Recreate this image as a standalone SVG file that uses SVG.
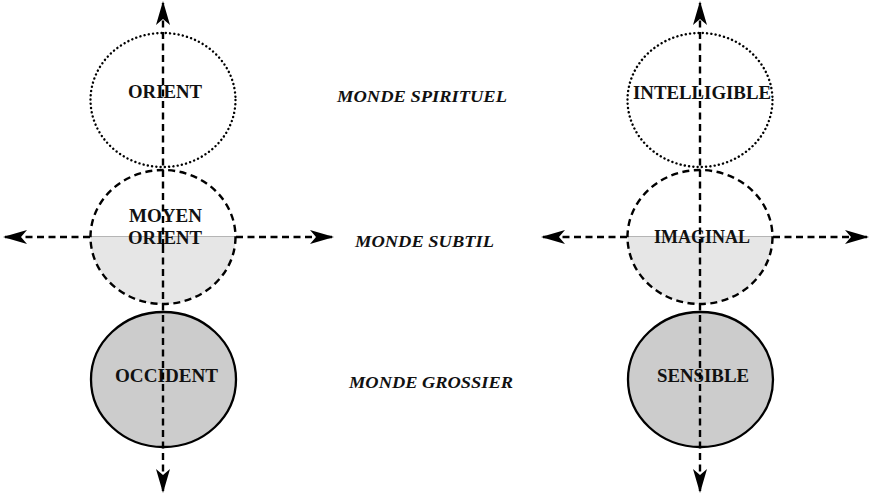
<svg xmlns="http://www.w3.org/2000/svg" width="869" height="493" viewBox="0 0 869 493">
<style>
.lbl{font-family:"Liberation Serif","DejaVu Serif",serif;font-weight:bold;font-size:19px;fill:#111;text-anchor:middle}
.mid{font-family:"Liberation Serif","DejaVu Serif",serif;font-weight:bold;font-style:italic;font-size:16.5px;fill:#111}
.dot{fill:none;stroke:#000;stroke-width:2.4;stroke-dasharray:0.1 4.2;stroke-linecap:round}
.dash{fill:none;stroke:#000;stroke-width:2.4;stroke-dasharray:7 4.5}
.solid{fill:#cccccc;stroke:#000;stroke-width:2.3}
.arr{fill:none;stroke:#000;stroke-width:2.4;stroke-dasharray:7 4.5}
</style>
<defs>
<marker id="ah" viewBox="0 0 24 14" refX="22" refY="7" markerWidth="24" markerHeight="14" markerUnits="userSpaceOnUse" orient="auto">
<path d="M0,0 L24,7 L0,14 L6,7 Z" fill="#000"/>
</marker>
</defs>
<rect width="869" height="493" fill="#fff"/>
<g id="orient">
<ellipse cx="163" cy="100" rx="72.5" ry="67" class="dot"/>
<text x="165" y="98" class="lbl" textLength="74" lengthAdjust="spacingAndGlyphs">ORIENT</text>
</g>
<g id="moyen-orient">
<path d="M90.5,237 A72.5,67 0 0 0 235.5,237 Z" fill="#e6e6e6"/>
<line x1="90.5" y1="236.5" x2="235.5" y2="236.5" stroke="#b5b5b5" stroke-width="1"/>
<ellipse cx="163" cy="237" rx="72.5" ry="67" class="dash"/>
<text x="165.5" y="222" class="lbl" textLength="73" lengthAdjust="spacingAndGlyphs">MOYEN</text>
<text x="165" y="244" class="lbl" textLength="74" lengthAdjust="spacingAndGlyphs">ORIENT</text>
</g>
<g id="occident">
<ellipse cx="163.5" cy="379.5" rx="72.5" ry="67.5" class="solid"/>
<text x="166.5" y="382" class="lbl" textLength="103" lengthAdjust="spacingAndGlyphs">OCCIDENT</text>
</g>
<g id="intelligible">
<ellipse cx="700" cy="100" rx="72.5" ry="67" class="dot"/>
<text x="702" y="99" class="lbl" textLength="138" lengthAdjust="spacingAndGlyphs">INTELLIGIBLE</text>
</g>
<g id="imaginal">
<path d="M627.5,237 A72.5,67 0 0 0 772.5,237 Z" fill="#e6e6e6"/>
<line x1="627.5" y1="236.5" x2="772.5" y2="236.5" stroke="#b5b5b5" stroke-width="1"/>
<ellipse cx="700" cy="237" rx="72.5" ry="67" class="dash"/>
<text x="702" y="243" class="lbl" textLength="96" lengthAdjust="spacingAndGlyphs">IMAGINAL</text>
</g>
<g id="sensible">
<ellipse cx="700.5" cy="379.5" rx="72.5" ry="67.5" class="solid"/>
<text x="703" y="382" class="lbl" textLength="92" lengthAdjust="spacingAndGlyphs">SENSIBLE</text>
</g>
<g id="labels">
<text x="337" y="102" class="mid" textLength="170" lengthAdjust="spacingAndGlyphs">MONDE SPIRITUEL</text>
<text x="355" y="247" class="mid" textLength="139" lengthAdjust="spacingAndGlyphs">MONDE SUBTIL</text>
<text x="349" y="388" class="mid" textLength="164" lengthAdjust="spacingAndGlyphs">MONDE GROSSIER</text>
</g>
<g id="connectors">
<line x1="163" y1="246" x2="163" y2="3" class="arr" marker-end="url(#ah)"/>
<line x1="163" y1="246" x2="163" y2="491" class="arr" marker-end="url(#ah)"/>
<line x1="90" y1="237" x2="5" y2="237" class="arr" marker-end="url(#ah)"/>
<line x1="236" y1="237" x2="332" y2="237" class="arr" marker-end="url(#ah)"/>
<line x1="700" y1="246" x2="700" y2="3" class="arr" marker-end="url(#ah)"/>
<line x1="700" y1="246" x2="700" y2="491" class="arr" marker-end="url(#ah)"/>
<line x1="627" y1="237" x2="543" y2="237" class="arr" marker-end="url(#ah)"/>
<line x1="773" y1="237" x2="867" y2="237" class="arr" marker-end="url(#ah)"/>
</g>
</svg>
